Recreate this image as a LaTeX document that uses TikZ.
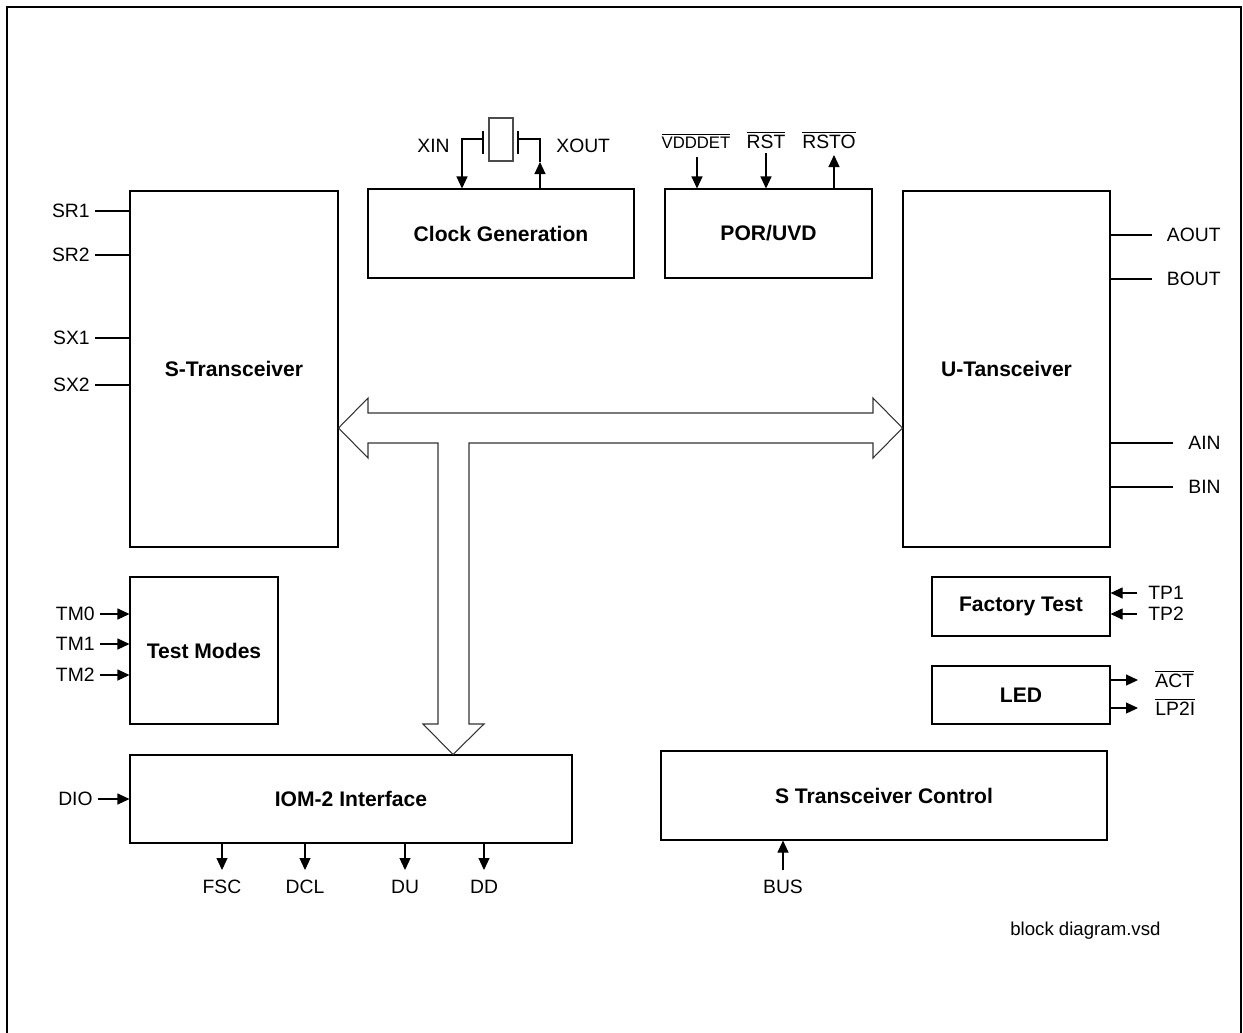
\documentclass[tikz,border=0pt]{standalone}
\usepackage{fontspec}
\setmainfont{Liberation Sans}
\usetikzlibrary{arrows.meta}
\tikzstyle{diagram} = [x = 0.02cm, y = -0.02cm, font=\fontsize{11}{13}\selectfont]
\tikzstyle{blockStyle} = [draw, line width=0.6pt, font=\fontsize{12}{14}\selectfont\bfseries]
\tikzstyle{pinLine} = [line width=0.6pt]
\tikzstyle{pinArrow} = [pinLine, -{Triangle[length=0.24cm, width=0.22cm]}]
\tikzstyle{busStyle} = [draw=black!80, line width=0.6pt, fill=white]
\tikzstyle{pinText} = [inner sep=0pt]
\tikzstyle{frameStyle} = [line width=1.2pt]
\newcommand{\block}[6]{\node [blockStyle, minimum width = {(#4 - #2) * 0.02cm}, minimum height = {(#5 - #3) * 0.02cm}] (#1) at ({(#2 + #4) / 2}, {(#3 + #5) / 2}) {#6};}
% pin with label on the left, free end at (#2,#3)
\newcommand{\leftPin}[4]{
  \coordinate (#1) at (#2,#3);
  \node [pinText, anchor=east] (#1Text) at ([xshift=-0.1cm]#1) {#4};
}
% pin with label on the right, label ends at x = #2
\newcommand{\rightPin}[4]{
  \node [pinText, anchor=east] (#1Text) at (#2,#3) {#4};
  \coordinate (#1) at ([xshift=-0.3cm]#1Text.west);
}
\newcommand{\bottomPin}[4]{
  \coordinate (#1) at (#2,#3);
  \node [pinText, anchor=north] (#1Text) at ([yshift=-0.2cm]#1) {#4};
}
\newcommand{\lowActive}[1]{$\overline{\mbox{#1}}$}

\begin{document}
\begin{tikzpicture}[diagram]
  \useasboundingbox (0,0) rectangle (1243,1032);
  \draw [frameStyle] (7,1040) -- (7,7) -- (1241,7) -- (1241,1040);

  % blocks
  \block{stx}{130}{191}{338}{547}{S-Transceiver}
  \block{clk}{368}{189}{634}{278}{Clock Generation}
  \block{por}{665}{189}{872}{278}{POR/UVD}
  \block{utx}{903}{191}{1110}{547}{U-Tansceiver}
  \block{tm}{130}{577}{278}{724}{Test Modes}
  \block{ft}{932}{577}{1110}{636}{Factory Test}
  \block{led}{932}{666}{1110}{724}{LED}
  \block{iom}{130}{755}{572}{843}{IOM-2 Interface}
  \block{stc}{661}{751}{1107}{840}{S Transceiver Control}

  % internal bus
  \draw [busStyle] (stx.east |- 0,428) -- (368,398) -- (368,413) -- (873,413) -- (873,398)
    -- (utx.west |- 0,428) -- (873,458) -- (873,443) -- (469,443) -- (469,724) -- (484,724)
    -- (iom.north -| 453,0) -- (423,724) -- (438,724) -- (438,443) -- (368,443) -- (368,458) -- cycle;

  % S-Transceiver lines
  \leftPin{sr1}{95}{211}{SR1}
  \leftPin{sr2}{95}{255}{SR2}
  \leftPin{sx1}{95}{338}{SX1}
  \leftPin{sx2}{95}{385}{SX2}
  \foreach \p in {sr1,sr2,sx1,sx2}
    \draw [pinLine] (\p) -- (\p -| stx.west);

  % U-Transceiver lines
  \rightPin{aout}{1221}{235}{AOUT}
  \rightPin{bout}{1221}{279}{BOUT}
  \rightPin{ain}{1221}{443}{AIN}
  \rightPin{bin}{1221}{487}{BIN}
  \foreach \p in {aout,bout,ain,bin}
    \draw [pinLine] (\p) -- (\p -| utx.east);

  % test mode inputs
  \leftPin{tm0}{100}{614}{TM0}
  \leftPin{tm1}{100}{644}{TM1}
  \leftPin{tm2}{100}{675}{TM2}
  \foreach \p in {tm0,tm1,tm2}
    \draw [pinArrow] (\p) -- (\p -| tm.west);
  \leftPin{dio}{98}{799}{DIO}
  \draw [pinArrow] (dio) -- (dio -| iom.west);

  % factory test and led
  \coordinate (tp1) at (1137,593);
  \coordinate (tp2) at (1137,614);
  \node [pinText, anchor=west] (tp1Text) at ([xshift=0.22cm]tp1) {TP1};
  \node [pinText, anchor=west] (tp2Text) at ([xshift=0.22cm]tp2) {TP2};
  \foreach \p in {tp1,tp2}
    \draw [pinArrow] (\p) -- (\p -| ft.east);
  \coordinate (act) at (1138,680);
  \coordinate (lp2i) at (1138,708);
  \node [pinText, anchor=base west] (actText) at (1155,687) {\lowActive{ACT}};
  \node [pinText, anchor=base west] (lp2iText) at (1155,715) {\lowActive{LP2I}};
  \foreach \p in {act,lp2i}
    \draw [pinArrow] (\p -| led.east) -- (\p);

  % iom outputs
  \bottomPin{fsc}{222}{870}{FSC}
  \bottomPin{dcl}{305}{870}{DCL}
  \bottomPin{du}{405}{870}{DU}
  \bottomPin{dd}{484}{870}{DD}
  \foreach \p in {fsc,dcl,du,dd}
    \draw [pinArrow] (\p |- iom.south) -- (\p);
  \bottomPin{bus}{783}{870}{BUS}
  \draw [pinArrow] (bus) -- (bus |- stc.south);

  % crystal
  \coordinate (xin) at (462,139);
  \coordinate (xout) at (540,139);
  \node [pinText, anchor=east] (xinText) at (450,146) {XIN};
  \node [pinText, anchor=west] (xoutText) at (556,146) {XOUT};
  \draw [pinArrow] (483,139) -- (xin) -- (xin |- clk.north);
  \draw [pinLine] (483,131) -- (483,154);
  \draw [pinLine, draw=black!70] (489,118) rectangle (513,161);
  \draw [pinLine] (518,131) -- (518,154);
  \draw [pinArrow] (xout |- clk.north) -- (540,162);
  \draw [pinLine] (540,162) -- (xout) -- (518,139);

  % reset lines
  \node [pinText, anchor=base, font=\fontsize{9.5}{11}\selectfont] (vddText) at (696,148) {\lowActive{VDDDET}};
  \node [pinText, anchor=base] (rstText) at (766,148) {\lowActive{RST}};
  \node [pinText, anchor=base] (rstoText) at (829,148) {\lowActive{RSTO}};
  \coordinate (vdd) at (697,157);
  \coordinate (rst) at (766,153);
  \coordinate (rsto) at (834,155);
  \draw [pinArrow] (vdd) -- (vdd |- por.north);
  \draw [pinArrow] (rst) -- (rst |- por.north);
  \draw [pinArrow] (rsto |- por.north) -- (rsto);

  \node [pinText, anchor=base west, font=\fontsize{10.6}{12}\selectfont] (fileText) at (1010,935) {block diagram.vsd};
\end{tikzpicture}
\end{document}
